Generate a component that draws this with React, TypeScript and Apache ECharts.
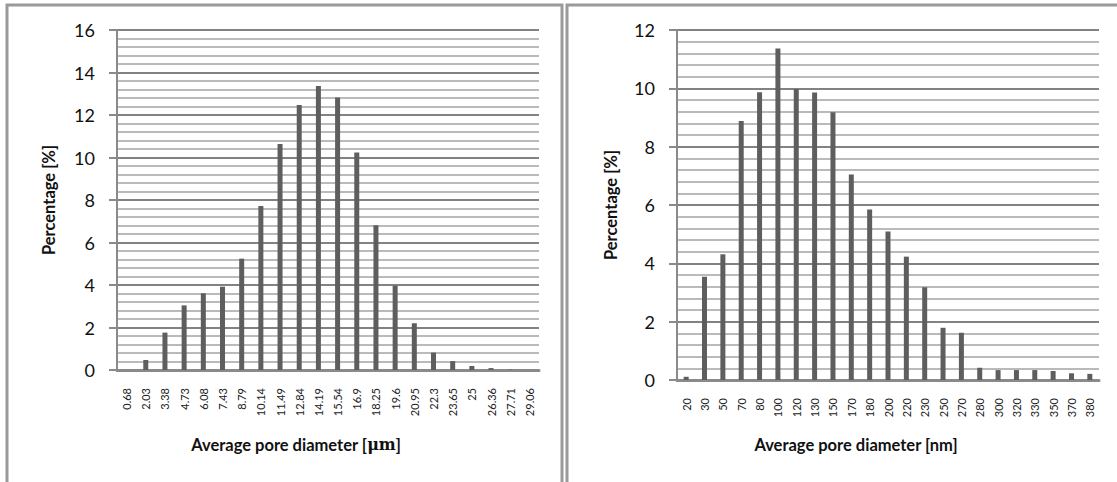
import React, { useEffect, useRef } from "react";
import * as echarts from "echarts";

const leftCategories = ["0.68","2.03","3.38","4.73","6.08","7.43","8.79","10.14","11.49","12.84","14.19","15.54","16.9","18.25","19.6","20.95","22.3","23.65","25","26.36","27.71","29.06"];
const leftValues = [0, 0.47, 1.76, 3.04, 3.61, 3.92, 5.24, 7.72, 10.64, 12.47, 13.36, 12.82, 10.24, 6.81, 3.97, 2.2, 0.82, 0.42, 0.19, 0.09, 0.02, 0];

const rightCategories = ["20","30","50","70","80","100","120","130","150","170","180","200","220","230","250","270","280","300","320","330","350","370","380"];
const rightValues = [0.11, 3.54, 4.31, 8.88, 9.87, 11.37, 9.98, 9.86, 9.18, 7.05, 5.85, 5.09, 4.23, 3.18, 1.79, 1.62, 0.42, 0.34, 0.34, 0.34, 0.31, 0.23, 0.21];

const leftYMax = 16;
const rightYMax = 12;
const yInterval = 2;

const FONT = "Lato, 'Open Sans', sans-serif";

function xAxisCfg(gridIndex: number, cats: string[], name: string, nameGap: number) {
  return {
    type: "category",
    gridIndex,
    data: cats,
    name,
    nameLocation: "middle",
    nameGap,
    nameTextStyle: {
      fontFamily: FONT,
      fontWeight: "bold",
      fontSize: 16.5,
      color: "#111",
      padding: [0, 64, 0, 0],
      rich: { s: { fontFamily: "'DejaVu Serif', serif", fontWeight: "bold", fontSize: 16, color: "#111" } },
    },
    axisLine: { show: true, lineStyle: { color: "#8a8a8a", width: 3 } },
    axisTick: { show: false },
    axisLabel: { rotate: 90, fontSize: 11, fontFamily: FONT, color: "#222", margin: 18, interval: 0 },
    splitLine: { show: false },
  };
}

function yAxisCfg(gridIndex: number, max: number, nameGap: number) {
  return {
    type: "value",
    gridIndex,
    min: 0,
    max,
    interval: yInterval,
    name: "Percentage [%]",
    nameLocation: "middle",
    nameGap,
    nameTextStyle: { fontFamily: FONT, fontWeight: "bold", fontSize: 16.5, color: "#111" },
    axisLine: { show: true, lineStyle: { color: "#8a8a8a", width: 2 } },
    axisTick: { show: true, length: 8, lineStyle: { color: "#8a8a8a", width: 2 } },
    axisLabel: { fontSize: 18, fontFamily: FONT, color: "#111", margin: 22 },
    splitLine: { show: true, lineStyle: { color: "#828282", width: 2 } },
    minorTick: { show: false, splitNumber: 5 },
    minorSplitLine: { show: true, lineStyle: { color: "#bababa", width: 2 } },
  };
}

export default function App() {
  const ref = useRef<HTMLDivElement>(null);
  useEffect(() => {
    if (!ref.current) return;
    const chart = echarts.init(ref.current, undefined, { renderer: "svg" });
    chart.setOption({
      animation: false,
      backgroundColor: "#ffffff",
      grid: [
        { left: 117, right: 1117 - 539, top: 30, bottom: 482 - 370 },
        { left: 677, right: 1117 - 1099, top: 30, bottom: 482 - 380 },
      ],
      xAxis: [
        xAxisCfg(0, leftCategories, "Average pore diameter [{s|μm}]", 66),
        xAxisCfg(1, rightCategories, "Average pore diameter [nm]", 56),
      ],
      yAxis: [yAxisCfg(0, leftYMax, 60), yAxisCfg(1, rightYMax, 58)],
      series: [
        {
          type: "bar",
          xAxisIndex: 0,
          yAxisIndex: 0,
          data: leftValues,
          barWidth: 5,
          itemStyle: { color: "#5e5e5e" },
        },
        {
          type: "bar",
          xAxisIndex: 1,
          yAxisIndex: 1,
          data: rightValues,
          barWidth: 5,
          itemStyle: { color: "#5e5e5e" },
        },
      ],
      graphic: [
        {
          type: "rect",
          shape: { x: 7, y: 5, width: 555, height: 500 },
          style: { fill: "none", stroke: "#9a9a9a", lineWidth: 3 },
          z: 100,
        },
        {
          type: "rect",
          shape: { x: 567, y: 5, width: 570, height: 500 },
          style: { fill: "none", stroke: "#9a9a9a", lineWidth: 3 },
          z: 100,
        },
      ],
    });
    return () => chart.dispose();
  }, []);
  return (
    <div
      ref={ref}
      style={{ position: "fixed", left: 0, top: 0, width: 1117, height: 482 }}
    />
  );
}
